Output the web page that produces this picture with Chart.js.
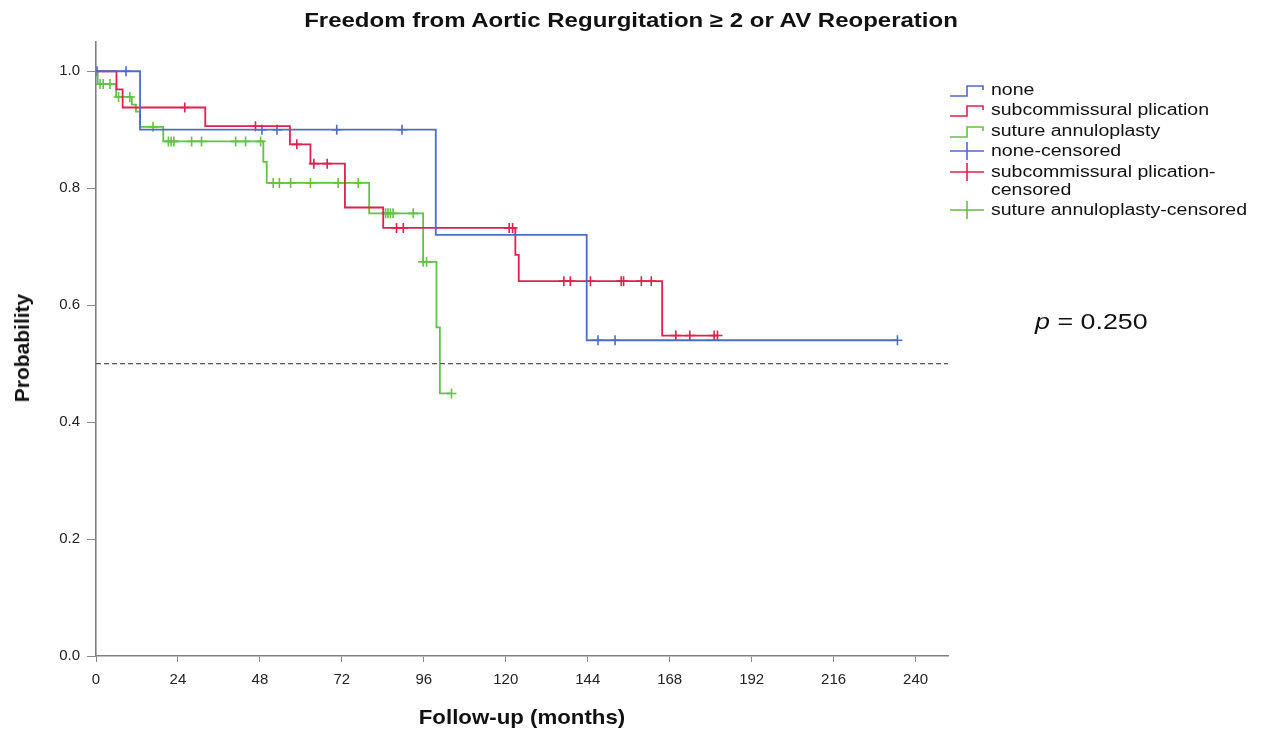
<!DOCTYPE html>
<html>
<head>
<meta charset="utf-8">
<script src="https://cdn.jsdelivr.net/npm/chart.js@4.4.1/dist/chart.umd.min.js"></script>
<style>
  html, body { margin: 0; padding: 0; background: #fff; }
  #wrap { position: relative; width: 1262px; height: 731px; font-family: "Liberation Sans", Arial, sans-serif; color: #111; }
  #km { position: absolute; left: 0; top: 0; }
  .title { position: absolute; left: 0; top: 9px; width: 1262px; text-align: center; font-weight: bold; font-size: 20px; transform: scaleX(1.2); transform-origin: 631px 0; }
  .xtitle { position: absolute; left: 96px; width: 852px; top: 705px; text-align: center; font-weight: bold; font-size: 21px; transform: scaleX(1.06); transform-origin: 426px 0; }
  .ytitle { position: absolute; left: 22px; top: 348px; transform: translate(-50%, -50%) rotate(-90deg); font-weight: bold; font-size: 21px; white-space: nowrap; }
  .legend { position: absolute; left: 950px; top: 81px; font-size: 16px; line-height: 18px; }
  .legend .row { display: flex; align-items: flex-start; margin-bottom: 2.4px; }
  .legend svg { flex: none; width: 36px; height: 18px; margin-right: 5px; }
  .legend span { display: inline-block; transform: scaleX(1.22); transform-origin: 0 0; white-space: nowrap; }
  .pval { position: absolute; left: 1035px; top: 309px; font-size: 22px; transform: scaleX(1.22); transform-origin: 0 0; white-space: nowrap; }
</style>
</head>
<body>
<div id="wrap">
  <canvas id="km" width="1262" height="731"></canvas>
  <div class="title">Freedom from Aortic Regurgitation ≥ 2 or AV Reoperation</div>
  <div class="ytitle">Probability</div>
  <div class="xtitle">Follow-up (months)</div>
  <div class="legend" id="legend"></div>
  <div class="pval"><i>p</i> = 0.250</div>
</div>
<script>
// Kaplan–Meier step curves: time (months) at which survival drops, and the new level
const noneTimes = [0, 12.9, 99.5, 143.7, 234.7];
const noneSurv  = [1.0, 0.90, 0.72, 0.54, 0.54];

const scpTimes = [0, 6.0, 7.8, 32.0, 56.8, 62.8, 72.9, 84.1, 122.8, 123.8, 165.8, 182.0];
const scpSurv  = [1.0, 0.969, 0.938, 0.906, 0.875, 0.842, 0.767, 0.732, 0.686, 0.641, 0.548, 0.548];

const saTimes = [0, 0.5, 5.9, 10.5, 11.7, 12.9, 19.7, 49.0, 50.0, 80.0, 95.8, 99.7, 100.7, 104.1];
const saSurv  = [1.0, 0.978, 0.956, 0.943, 0.931, 0.905, 0.880, 0.845, 0.809, 0.757, 0.674, 0.562, 0.449, 0.449];

// Censored observations
const noneCensTimes = [0.3, 8.8, 48.6, 53.0, 70.5, 89.6, 147.0, 152.0, 234.7];
const noneCensSurv  = [1.0, 1.0, 0.90, 0.90, 0.90, 0.90, 0.54, 0.54, 0.54];

const scpCensTimes = [26.0, 46.7, 58.8, 63.8, 67.7, 88.0, 90.0, 121.0, 122.0, 137.0, 138.9, 144.8, 153.8, 154.5, 159.7, 162.6, 169.8, 173.9, 181.0, 182.0];
const scpCensSurv  = [0.938, 0.906, 0.875, 0.842, 0.842, 0.732, 0.732, 0.732, 0.732, 0.641, 0.641, 0.641, 0.641, 0.641, 0.641, 0.641, 0.548, 0.548, 0.548, 0.548];

const saCensTimes = [1.2, 2.1, 4.1, 6.6, 9.9, 16.7, 21.2, 22.0, 22.8, 28.0, 30.9, 40.9, 43.8, 48.2, 51.9, 53.7, 57.0, 62.8, 70.9, 76.8, 84.8, 85.5, 86.2, 87.0, 92.9, 95.8, 96.8, 104.1];
const saCensSurv  = [0.978, 0.978, 0.978, 0.956, 0.956, 0.905, 0.880, 0.880, 0.880, 0.880, 0.880, 0.880, 0.880, 0.880, 0.809, 0.809, 0.809, 0.809, 0.809, 0.809, 0.757, 0.757, 0.757, 0.757, 0.757, 0.674, 0.674, 0.449];

// Axis ticks and reference level
const xTicks = [0, 24, 48, 72, 96, 120, 144, 168, 192, 216, 240];
const yTicks = [0.0, 0.2, 0.4, 0.6, 0.8, 1.0];
const medianLevel = 0.5;

const groups = ['none', 'subcommissural plication', 'suture annuloplasty'];
const colors = ['#4d6cc6', '#e0204f', '#62c146'];

const zip = (xs, ys) => xs.map((x, i) => ({ x: x, y: ys[i] }));

function stepSet(label, xs, ys, color) {
  return { type: 'line', label, data: zip(xs, ys), borderColor: color, borderWidth: 1.8,
           stepped: 'before', pointRadius: 0, fill: false, tension: 0 };
}
function censSet(label, xs, ys, color) {
  return { type: 'scatter', label, data: zip(xs, ys), borderColor: color, backgroundColor: color,
           pointStyle: 'cross', pointRadius: 5, borderWidth: 1.6, showLine: false };
}

const datasets = [
  { type: 'line', label: 'median', data: [{ x: 0, y: medianLevel }, { x: 249.5, y: medianLevel }],
    borderColor: '#555', borderWidth: 1.3, borderDash: [5, 3], pointRadius: 0, fill: false },
  stepSet(groups[0], noneTimes, noneSurv, colors[0]),
  stepSet(groups[1], scpTimes, scpSurv, colors[1]),
  stepSet(groups[2], saTimes, saSurv, colors[2]),
  censSet(groups[0] + '-censored', noneCensTimes, noneCensSurv, colors[0]),
  censSet(groups[1] + '-censored', scpCensTimes, scpCensSurv, colors[1]),
  censSet(groups[2] + '-censored', saCensTimes, saCensSurv, colors[2])
];

const tickFont = { family: '"Liberation Sans", Arial, sans-serif', size: 15 };

new Chart(document.getElementById('km'), {
  type: 'scatter',
  data: { datasets },
  options: {
    responsive: false,
    animation: false,
    layout: { padding: { left: 0, right: 314, top: 42, bottom: 0 } },
    plugins: { legend: { display: false }, tooltip: { enabled: false }, title: { display: false } },
    scales: {
      x: {
        type: 'linear', min: 0, max: 249.5,
        afterFit: s => { s.height = 75; },
        afterBuildTicks: s => { s.ticks = xTicks.map(v => ({ value: v })); },
        ticks: { font: tickFont, color: '#222', padding: 9, maxRotation: 0 },
        grid: { drawOnChartArea: false, drawTicks: true, tickLength: 6, color: '#888' },
        border: { color: '#808080', width: 1.6 }
      },
      y: {
        type: 'linear', min: 0, max: 1.05,
        afterFit: s => { s.width = 96; },
        afterBuildTicks: s => { s.ticks = yTicks.map(v => ({ value: v })); },
        ticks: { font: tickFont, color: '#222', padding: 7, callback: v => v.toFixed(1) },
        grid: { drawOnChartArea: false, drawTicks: true, tickLength: 9, color: '#888' },
        border: { color: '#808080', width: 1.6 }
      }
    }
  }
});

// Legend: step icons for the survival curves, crosses for censored points
function stepIcon(c) {
  return `<svg viewBox="0 0 36 18"><polyline points="0,15 17,15 17,5 33,5 33,9" fill="none" stroke="${c}" stroke-width="1.6"/></svg>`;
}
function crossIcon(c) {
  return `<svg viewBox="0 0 36 18"><line x1="0" y1="9" x2="34" y2="9" stroke="${c}" stroke-width="1.6"/><line x1="17" y1="0" x2="17" y2="18" stroke="${c}" stroke-width="1.6"/></svg>`;
}
const legendRows = [
  [stepIcon(colors[0]), groups[0]],
  [stepIcon(colors[1]), groups[1]],
  [stepIcon(colors[2]), groups[2]],
  [crossIcon(colors[0]), groups[0] + '-censored'],
  [crossIcon(colors[1]), 'subcommissural plication-<br>censored'],
  [crossIcon(colors[2]), groups[2] + '-censored']
];
document.getElementById('legend').innerHTML = legendRows
  .map(r => `<div class="row">${r[0]}<span>${r[1]}</span></div>`).join('');
</script>
</body>
</html>
